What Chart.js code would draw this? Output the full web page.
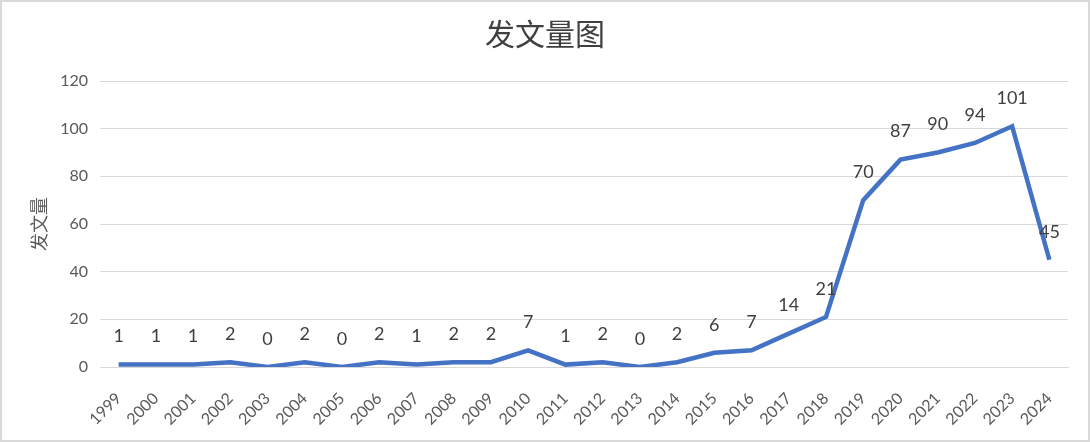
<!DOCTYPE html>
<html>
<head>
<meta charset="utf-8">
<script src="https://cdn.jsdelivr.net/npm/chart.js@4/dist/chart.umd.min.js"></script>
<style>
  html, body { margin: 0; padding: 0; background: #fff; }
  #wrap { width: 1090px; height: 442px; box-sizing: border-box; border: 2px solid #d9d9d9; position: relative; }
  canvas { display: block; }
</style>
</head>
<body>
<div id="wrap"><canvas id="c" width="1086" height="438"></canvas></div>
<script>
const years = ['1999','2000','2001','2002','2003','2004','2005','2006','2007','2008','2009','2010','2011','2012','2013','2014','2015','2016','2017','2018','2019','2020','2021','2022','2023','2024'];
const counts = [1,1,1,2,0,2,0,2,1,2,2,7,1,2,0,2,6,7,14,21,70,87,90,94,101,45];
const yTicks = [0,20,40,60,80,100,120];
const chartTitle = '发文量图';
const yTitle = '发文量';

const numFont = 'Lato, "Noto Sans CJK SC", sans-serif';
const cjkFont = '"Noto Sans CJK SC", sans-serif';

const labelPlugin = {
  id: 'pointLabels',
  afterDatasetsDraw(chart) {
    const ctx = chart.ctx;
    const meta = chart.getDatasetMeta(0);
    ctx.save();
    ctx.font = '18px ' + numFont;
    ctx.fillStyle = '#404040';
    ctx.textAlign = 'center';
    ctx.textBaseline = 'middle';
    meta.data.forEach((pt, i) => {
      ctx.fillText(String(chart.data.datasets[0].data[i]), pt.x, pt.y - 28);
    });
    ctx.restore();
  }
};

new Chart(document.getElementById('c'), {
  type: 'line',
  data: {
    labels: years,
    datasets: [{
      data: counts,
      borderColor: '#4472C4',
      borderWidth: 4.5,
      pointRadius: 0,
      tension: 0,
      fill: false
    }]
  },
  options: {
    responsive: false,
    animation: false,
    layout: { padding: { left: 20, right: 20, top: 0, bottom: 0 } },
    plugins: {
      legend: { display: false },
      tooltip: { enabled: false },
      title: {
        display: true,
        text: chartTitle,
        color: '#404040',
        font: { family: cjkFont, size: 30, weight: 'normal' },
        padding: { top: 14, bottom: 29 }
      }
    },
    scales: {
      x: {
        offset: true,
        grid: { display: false, drawTicks: false },
        border: { display: true, color: '#d9d9d9', width: 1 },
        ticks: {
          color: '#595959',
          font: { family: numFont, size: 16 },
          maxRotation: 45, minRotation: 45,
          autoSkip: false,
          padding: 22
        },
        afterFit(scale) { scale.height = 73; }
      },
      y: {
        min: 0, max: 120,
        afterBuildTicks(scale) { scale.ticks = yTicks.map(v => ({ value: v })); },
        grid: { color: '#d9d9d9', lineWidth: 1, drawTicks: false },
        border: { display: false },
        ticks: {
          color: '#595959',
          font: { family: numFont, size: 16 },
          padding: 12
        },
        title: {
          display: true,
          text: yTitle,
          color: '#595959',
          font: { family: cjkFont, size: 18, weight: 'normal' },
          padding: { top: 6, bottom: 0 }
        },
        afterFit(scale) { scale.width = 78; }
      }
    }
  },
  plugins: [labelPlugin]
});
</script>
</body>
</html>
